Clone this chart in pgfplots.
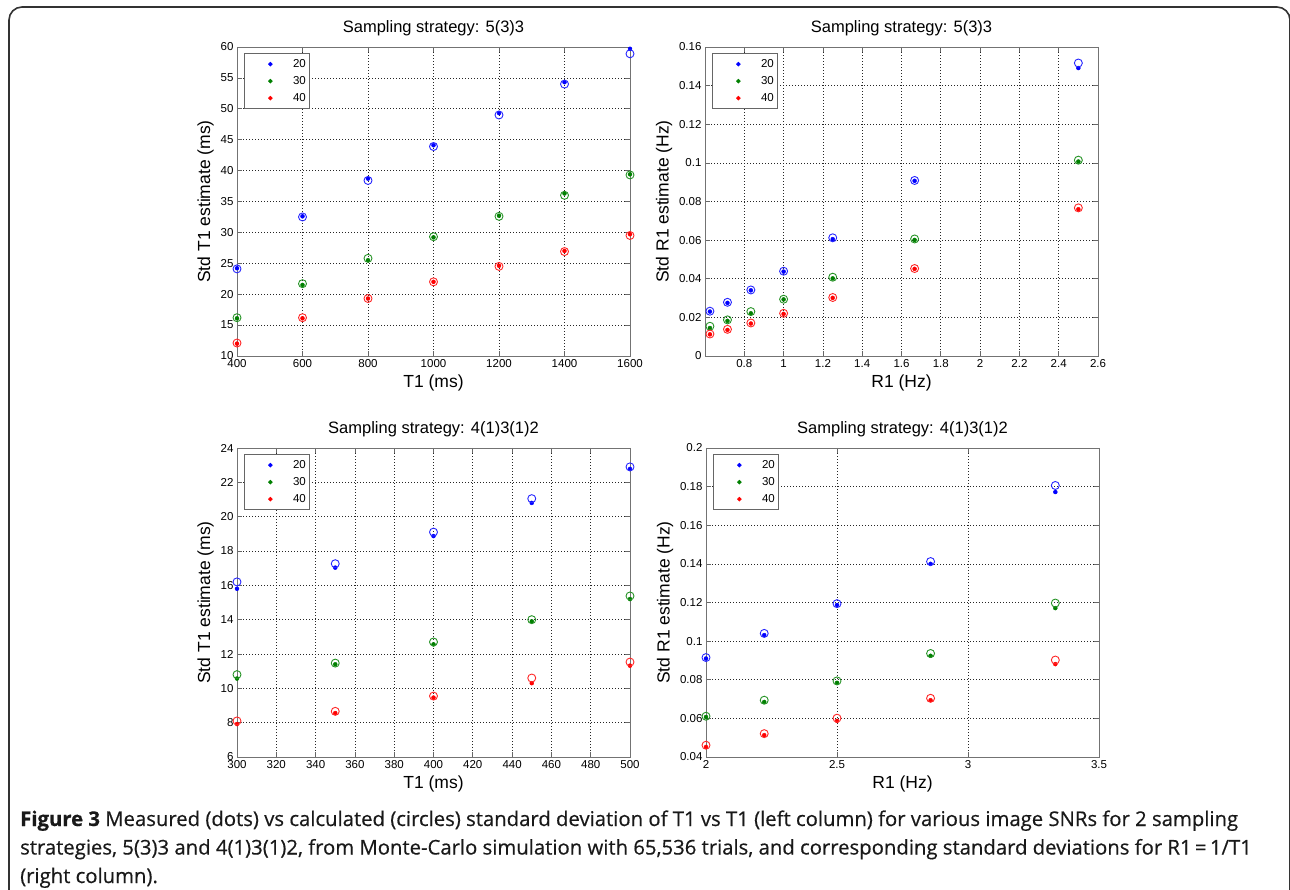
\documentclass[border=0pt]{standalone}
\usepackage{fontspec}
\setmainfont{Liberation Sans}
\newfontfamily\capfont[FakeBold=0.5]{Open Sans}
\usepackage{pgfplots}
\usepackage{pgfplotstable}
\pgfplotsset{compat=1.18}

\definecolor{mblue}{rgb}{0,0,1}
\definecolor{mgreen}{rgb}{0,0.5,0}
\definecolor{mred}{rgb}{1,0,0}
\definecolor{framegray}{gray}{0.2}

% columns: x, measured (dots) and calculated (circles) for SNR 20, 30, 40
\pgfplotstableread{
x    d20   c20   d30   c30   d40   c40
400  24.2  24.1  16.1  16.2  12.0  12.1
600  32.6  32.5  21.5  21.7  16.1  16.2
800  38.7  38.4  25.5  25.8  19.3  19.3
1000 44.1  43.9  29.2  29.3  22.0  22.0
1200 49.3  49.0  32.7  32.6  24.6  24.5
1400 54.3  54.0  36.3  36.0  27.0  26.9
1600 59.7  58.9  39.4  39.3  29.7  29.5
}\tTfive

\pgfplotstableread{
x      d20    c20    d30    c30    d40    c40
0.625  0.0230 0.0232 0.0145 0.0154 0.0112 0.0114
0.7143 0.0275 0.0278 0.0182 0.0187 0.0135 0.0138
0.8333 0.0340 0.0342 0.0221 0.0230 0.0168 0.0171
1      0.0437 0.0439 0.0293 0.0294 0.0218 0.0221
1.25   0.0605 0.0612 0.0402 0.0408 0.0301 0.0303
1.6667 0.0907 0.0909 0.0601 0.0606 0.0451 0.0453
2.5    0.1491 0.1517 0.1007 0.1014 0.0760 0.0767
}\tRfive

\pgfplotstableread{
x    d20   c20   d30   c30   d40   c40
300  15.80 16.20 10.57 10.80 7.92  8.10
350  17.03 17.26 11.40 11.47 8.56  8.66
400  18.87 19.10 12.56 12.70 9.46  9.55
450  20.80 21.05 13.90 14.00 10.30 10.60
500  22.78 22.90 15.20 15.38 11.32 11.53
}\tTfour

\pgfplotstableread{
x      d20    c20    d30    c30    d40    c40
2      0.0910 0.0915 0.0607 0.0611 0.0452 0.0461
2.2222 0.1031 0.1040 0.0685 0.0694 0.0513 0.0521
2.5    0.1187 0.1194 0.0784 0.0794 0.0587 0.0601
2.8571 0.1400 0.1412 0.0924 0.0936 0.0694 0.0704
3.3333 0.1772 0.1806 0.1171 0.1197 0.0881 0.0902
}\tRfour

\pgfplotsset{
  panel/.style={
    scale only axis, width=393pt, height=309pt,
    anchor=south west,
    grid=major,
    major grid style={black!85, line width=0.65pt, dash pattern=on 1pt off 2pt},
    axis line style={black!55, line width=0.9pt},
    tick style={black!60, line width=0.7pt},
    major tick length=5pt, tick align=inside,
    scaled ticks=false,
    /pgf/number format/assume math mode=true,
    /pgf/number format/set thousands separator={},
    ticklabel style={font=\fontsize{11.5}{12}\selectfont},
    title style={font=\fontsize{16.5}{18}\selectfont, yshift=2pt},
    label style={font=\fontsize{17.5}{19}\selectfont},
    legend style={at={(0,1)}, anchor=north west, xshift=7pt, yshift=-6pt,
      draw=black!60, line width=0.8pt, fill=white,
      font=\fontsize{11.5}{12}\selectfont,
      inner xsep=2pt, inner ysep=4.5pt,
      row sep=4.5pt,
      nodes={inner sep=1.6pt, text height=8.3pt, text depth=1pt}},
    legend cell align=right,
    legend image code/.code={
      \path[draw=none, fill=none] (0pt,-3pt) rectangle (45pt,3pt);
      \fill (24pt,0pt) circle (1.8pt);
    },
  },
  dot/.style={only marks, mark=*, mark size=2pt, color=#1},
  ring/.style={only marks, mark=o, mark size=4pt, line width=0.9pt,
    color=#1!85!white, forget plot},
}

\newcommand{\allseries}[1]{%
  \addplot[dot=mblue]  table[x=x, y=d20] {#1};
  \addplot[dot=mgreen] table[x=x, y=d30] {#1};
  \addplot[dot=mred]   table[x=x, y=d40] {#1};
  \addplot[ring=mblue]  table[x=x, y=c20] {#1};
  \addplot[ring=mgreen] table[x=x, y=c30] {#1};
  \addplot[ring=mred]   table[x=x, y=c40] {#1};
  \legend{20,30,40}%
}

\begin{document}
\begin{tikzpicture}
\useasboundingbox (0pt,0pt) rectangle (1290pt,889pt);
\draw[framegray, line width=1.6pt, rounded corners=13pt] (9pt,882pt) rectangle (1290pt,-30pt);

% T1, strategy 5(3)3
\begin{axis}[panel, at={(237pt,533pt)},
  xmin=400, xmax=1600, ymin=10, ymax=60,
  xtick={400,600,...,1600}, ytick={10,15,...,60},
  title={Sampling strategy: 5(3)3},
  xlabel={T1 (ms)}, ylabel={Std T1 estimate (ms)}]
  \allseries{\tTfive}
\end{axis}

% R1, strategy 5(3)3
\begin{axis}[panel, at={(705pt,533pt)},
  xmin=0.6, xmax=2.6, ymin=0, ymax=0.16,
  xtick={0.8,1,1.2,1.4,1.6,1.8,2,2.2,2.4,2.6},
  ytick={0,0.02,0.04,0.06,0.08,0.1,0.12,0.14,0.16},
  yticklabel style={/pgf/number format/fixed, /pgf/number format/precision=2},
  title={Sampling strategy: 5(3)3},
  xlabel={R1 (Hz)}, ylabel={Std R1 estimate (Hz)}]
  \allseries{\tRfive}
\end{axis}

% T1, strategy 4(1)3(1)2
\begin{axis}[panel, at={(237pt,132pt)},
  xmin=300, xmax=500, ymin=6, ymax=24,
  xtick={300,320,...,500}, ytick={6,8,...,24},
  title={Sampling strategy: 4(1)3(1)2},
  xlabel={T1 (ms)}, ylabel={Std T1 estimate (ms)}]
  \allseries{\tTfour}
\end{axis}

% R1, strategy 4(1)3(1)2
\begin{axis}[panel, at={(706pt,132pt)},
  xmin=2, xmax=3.5, ymin=0.04, ymax=0.2,
  xtick={2,2.5,3,3.5},
  ytick={0.04,0.06,0.08,0.1,0.12,0.14,0.16,0.18,0.2},
  yticklabel style={/pgf/number format/fixed, /pgf/number format/precision=2},
  title={Sampling strategy: 4(1)3(1)2},
  xlabel={R1 (Hz)}, ylabel={Std R1 estimate (Hz)}]
  \allseries{\tRfour}
\end{axis}

% caption
\begin{scope}[every node/.style={anchor=base west, inner sep=0pt,
    font=\capfont\fontsize{20.3}{21}\selectfont, text=black!90}]
\node at (20pt,63pt) {\textbf{Figure 3} Measured (dots) vs calculated (circles) standard deviation of T1 vs T1 (left column) for various image SNRs for 2 sampling};
\node at (20pt,34.5pt) {strategies, 5(3)3 and 4(1)3(1)2, from Monte-Carlo simulation with 65,536 trials, and corresponding standard deviations for R1\,=\,1/T1};
\node at (20pt,6pt) {(right column).};
\end{scope}
\end{tikzpicture}
\end{document}
